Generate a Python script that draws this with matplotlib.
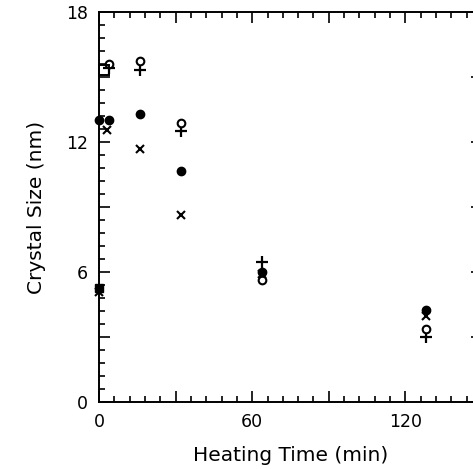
import matplotlib

matplotlib.use("Agg")
import matplotlib.pyplot as plt
from matplotlib.ticker import FuncFormatter, MultipleLocator

# heating time (min) and crystal size (nm), one list per symbol
open_sq_t = [2]
open_sq_d = [15.3]

open_circ_t = [4, 16, 32, 64, 128]
open_circ_d = [15.6, 15.75, 12.9, 5.65, 3.35]

plus_t = [4, 16, 32, 64, 128]
plus_d = [15.4, 15.3, 12.5, 6.45, 3.0]

filled_circ_t = [0, 4, 16, 32, 64, 128]
filled_circ_d = [13.0, 13.0, 13.3, 10.65, 6.0, 4.25]

cross_t = [0, 3, 16, 32, 64, 128]
cross_d = [5.1, 12.55, 11.7, 8.65, 5.9, 3.95]

filled_sq_t = [0]
filled_sq_d = [5.25]

fig = plt.figure(figsize=(4.73, 4.69), dpi=100)
# the right side of the frame runs past the edge of the picture
ax = fig.add_axes([99 / 473, 67 / 469, 383 / 473, 390 / 469])

kw = dict(linestyle="none", clip_on=False, color="black")
ax.plot(cross_t, cross_d, marker="x", markersize=6, markeredgewidth=1.5, **kw)
ax.plot(filled_sq_t, filled_sq_d, marker="s", markersize=6, **kw)
ax.plot(plus_t, plus_d, marker="+", markersize=8, markeredgewidth=1.6, **kw)
ax.plot(open_circ_t, open_circ_d, marker="o", markersize=5.5, markerfacecolor="white",
        markeredgewidth=1.5, **kw)
ax.plot(filled_circ_t, filled_circ_d, marker="o", markersize=6, **kw)
ax.plot(open_sq_t, open_sq_d, marker="s", markersize=7, markerfacecolor="none",
        markeredgewidth=1.4, **kw)

ax.set_xlim(0, 150)
ax.set_ylim(0, 18)
# major ticks every 30 min / 3 nm, labels only on every other one
ax.xaxis.set_major_locator(MultipleLocator(30))
ax.xaxis.set_minor_locator(MultipleLocator(6))
ax.yaxis.set_major_locator(MultipleLocator(3))
ax.yaxis.set_minor_locator(MultipleLocator(0.6))
ax.xaxis.set_major_formatter(FuncFormatter(lambda v, p: f"{v:.0f}" if round(v) % 60 == 0 else ""))
ax.yaxis.set_major_formatter(FuncFormatter(lambda v, p: f"{v:.0f}" if round(v) % 6 == 0 else ""))

ax.tick_params(which="both", direction="in", top=True, right=True, width=1.2,
               labelsize=12.5, pad=8)
ax.tick_params(which="major", length=8)
ax.tick_params(which="minor", length=4.5)
for s in ax.spines.values():
    s.set_linewidth(1.4)

ax.set_xlabel("Heating Time (min)", fontsize=14.5, labelpad=11)
ax.set_ylabel("Crystal Size (nm)", fontsize=14.5, labelpad=14)

fig.savefig("out.png", dpi=100)
